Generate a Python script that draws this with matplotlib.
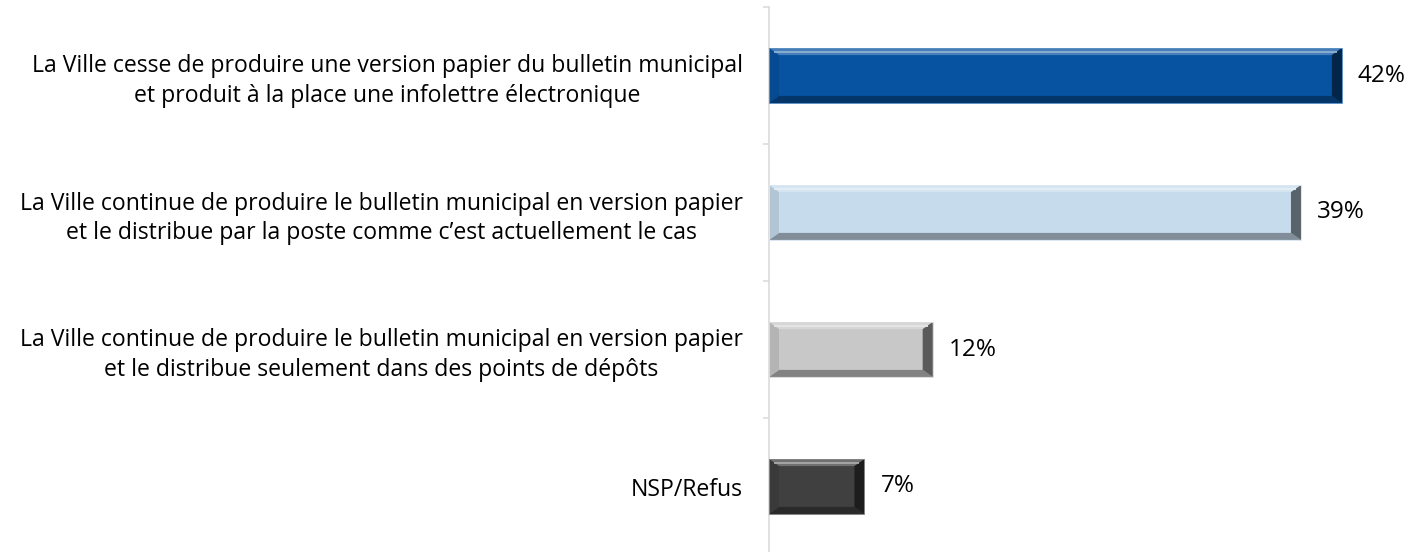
import matplotlib
matplotlib.use("Agg")
import matplotlib.pyplot as plt
from matplotlib.patches import Polygon
import matplotlib.colors as mcolors
import numpy as np

categories = [
    "La Ville cesse de produire une version papier du bulletin municipal\net produit à la place une infolettre électronique",
    "La Ville continue de produire le bulletin municipal en version papier\net le distribue par la poste comme c\u2019est actuellement le cas",
    "La Ville continue de produire le bulletin municipal en version papier\net le distribue seulement dans des points de dépôts",
    "NSP/Refus",
]
values = [42, 39, 12, 7]
value_labels = ["42%", "39%", "12%", "7%"]
colors = ["#0753A1", "#C6DBEC", "#C8C8C8", "#404040"]

plt.rcParams['font.family'] = ['Open Sans', 'DejaVu Sans']

W, H, DPI = 1413, 552, 100
fig = plt.figure(figsize=(W / DPI, H / DPI), dpi=DPI)
fig.patch.set_facecolor("white")

ax_left_px = 769
px_per_unit = 13.64
xmax = 47
top_px, bottom_px = 7, 555
ax = fig.add_axes([ax_left_px / W, (H - bottom_px) / H,
                   xmax * px_per_unit / W, (bottom_px - top_px) / H])

n = len(categories)
ypos = np.arange(n)
bar_h = 0.40
bars = ax.barh(ypos, values, height=bar_h, color=colors, edgecolor="none", zorder=2)

def mix(c, other, t):
    a = np.array(mcolors.to_rgb(c))
    b = np.array(mcolors.to_rgb(other))
    return tuple(a * (1 - t) + b * t)

bx = 10 / px_per_unit                  # bevel width (x, data units)
by = 7 / ((bottom_px - top_px) / n)    # bevel height (y, data units)

for b, c in zip(bars, colors):
    x0, y0 = b.get_x(), b.get_y()
    x1, y1 = x0 + b.get_width(), y0 + b.get_height()
    # y axis inverted: y0 is the visual top
    top = [(x0, y0), (x1, y0), (x1 - bx, y0 + by), (x0 + bx, y0 + by)]
    bot = [(x0, y1), (x1, y1), (x1 - bx, y1 - by), (x0 + bx, y1 - by)]
    right = [(x1, y0), (x1, y1), (x1 - bx, y1 - by), (x1 - bx, y0 + by)]
    left = [(x0, y0), (x0, y1), (x0 + bx, y1 - by), (x0 + bx, y0 + by)]
    ax.add_patch(Polygon(top, closed=True, color=mix(c, "white", 0.25), lw=0, zorder=3))
    ax.add_patch(Polygon(bot, closed=True, color=mix(c, "black", 0.35), lw=0, zorder=3))
    ax.add_patch(Polygon(left, closed=True, color=mix(c, "black", 0.10), lw=0, zorder=3))
    ax.add_patch(Polygon(right, closed=True, color=mix(c, "black", 0.55), lw=0, zorder=3))
    ax.plot([x0 + bx * 0.5, x1 - bx * 0.5], [y0 + by * 0.5, y0 + by * 0.5],
            color=mix(c, "white", 0.55), lw=1.3, zorder=4, solid_capstyle="butt")
    ax.add_patch(plt.Rectangle((x0, y0), b.get_width(), b.get_height(), fill=False,
                               ec=mix(c, "white", 0.35), lw=0.7, zorder=5))

for y, v, lab in zip(ypos, values, value_labels):
    ax.annotate(lab, (v, y), xytext=(11.5, 0), textcoords="offset points",
                ha="left", va="center", fontsize=17.5, color="black")

ax.set_xlim(0, xmax)
ax.set_ylim(n - 0.5, -0.5)

ax.set_yticks(ypos)
ax.set_yticklabels(categories, fontsize=16.6, multialignment="center", linespacing=1.28)
ax.tick_params(axis="y", which="major", length=0, pad=19)
ax.set_yticks(np.arange(-0.5, n, 1.0), minor=True)
ax.tick_params(axis="y", which="minor", length=4, width=1.1, color="#D9D9D9")
ax.set_xticks([])

for s in ["top", "right", "bottom"]:
    ax.spines[s].set_visible(False)
ax.spines["left"].set_color("#D9D9D9")
ax.spines["left"].set_linewidth(1.1)
ax.patch.set_alpha(0)

fig.savefig("out.png", dpi=DPI, facecolor="white")
